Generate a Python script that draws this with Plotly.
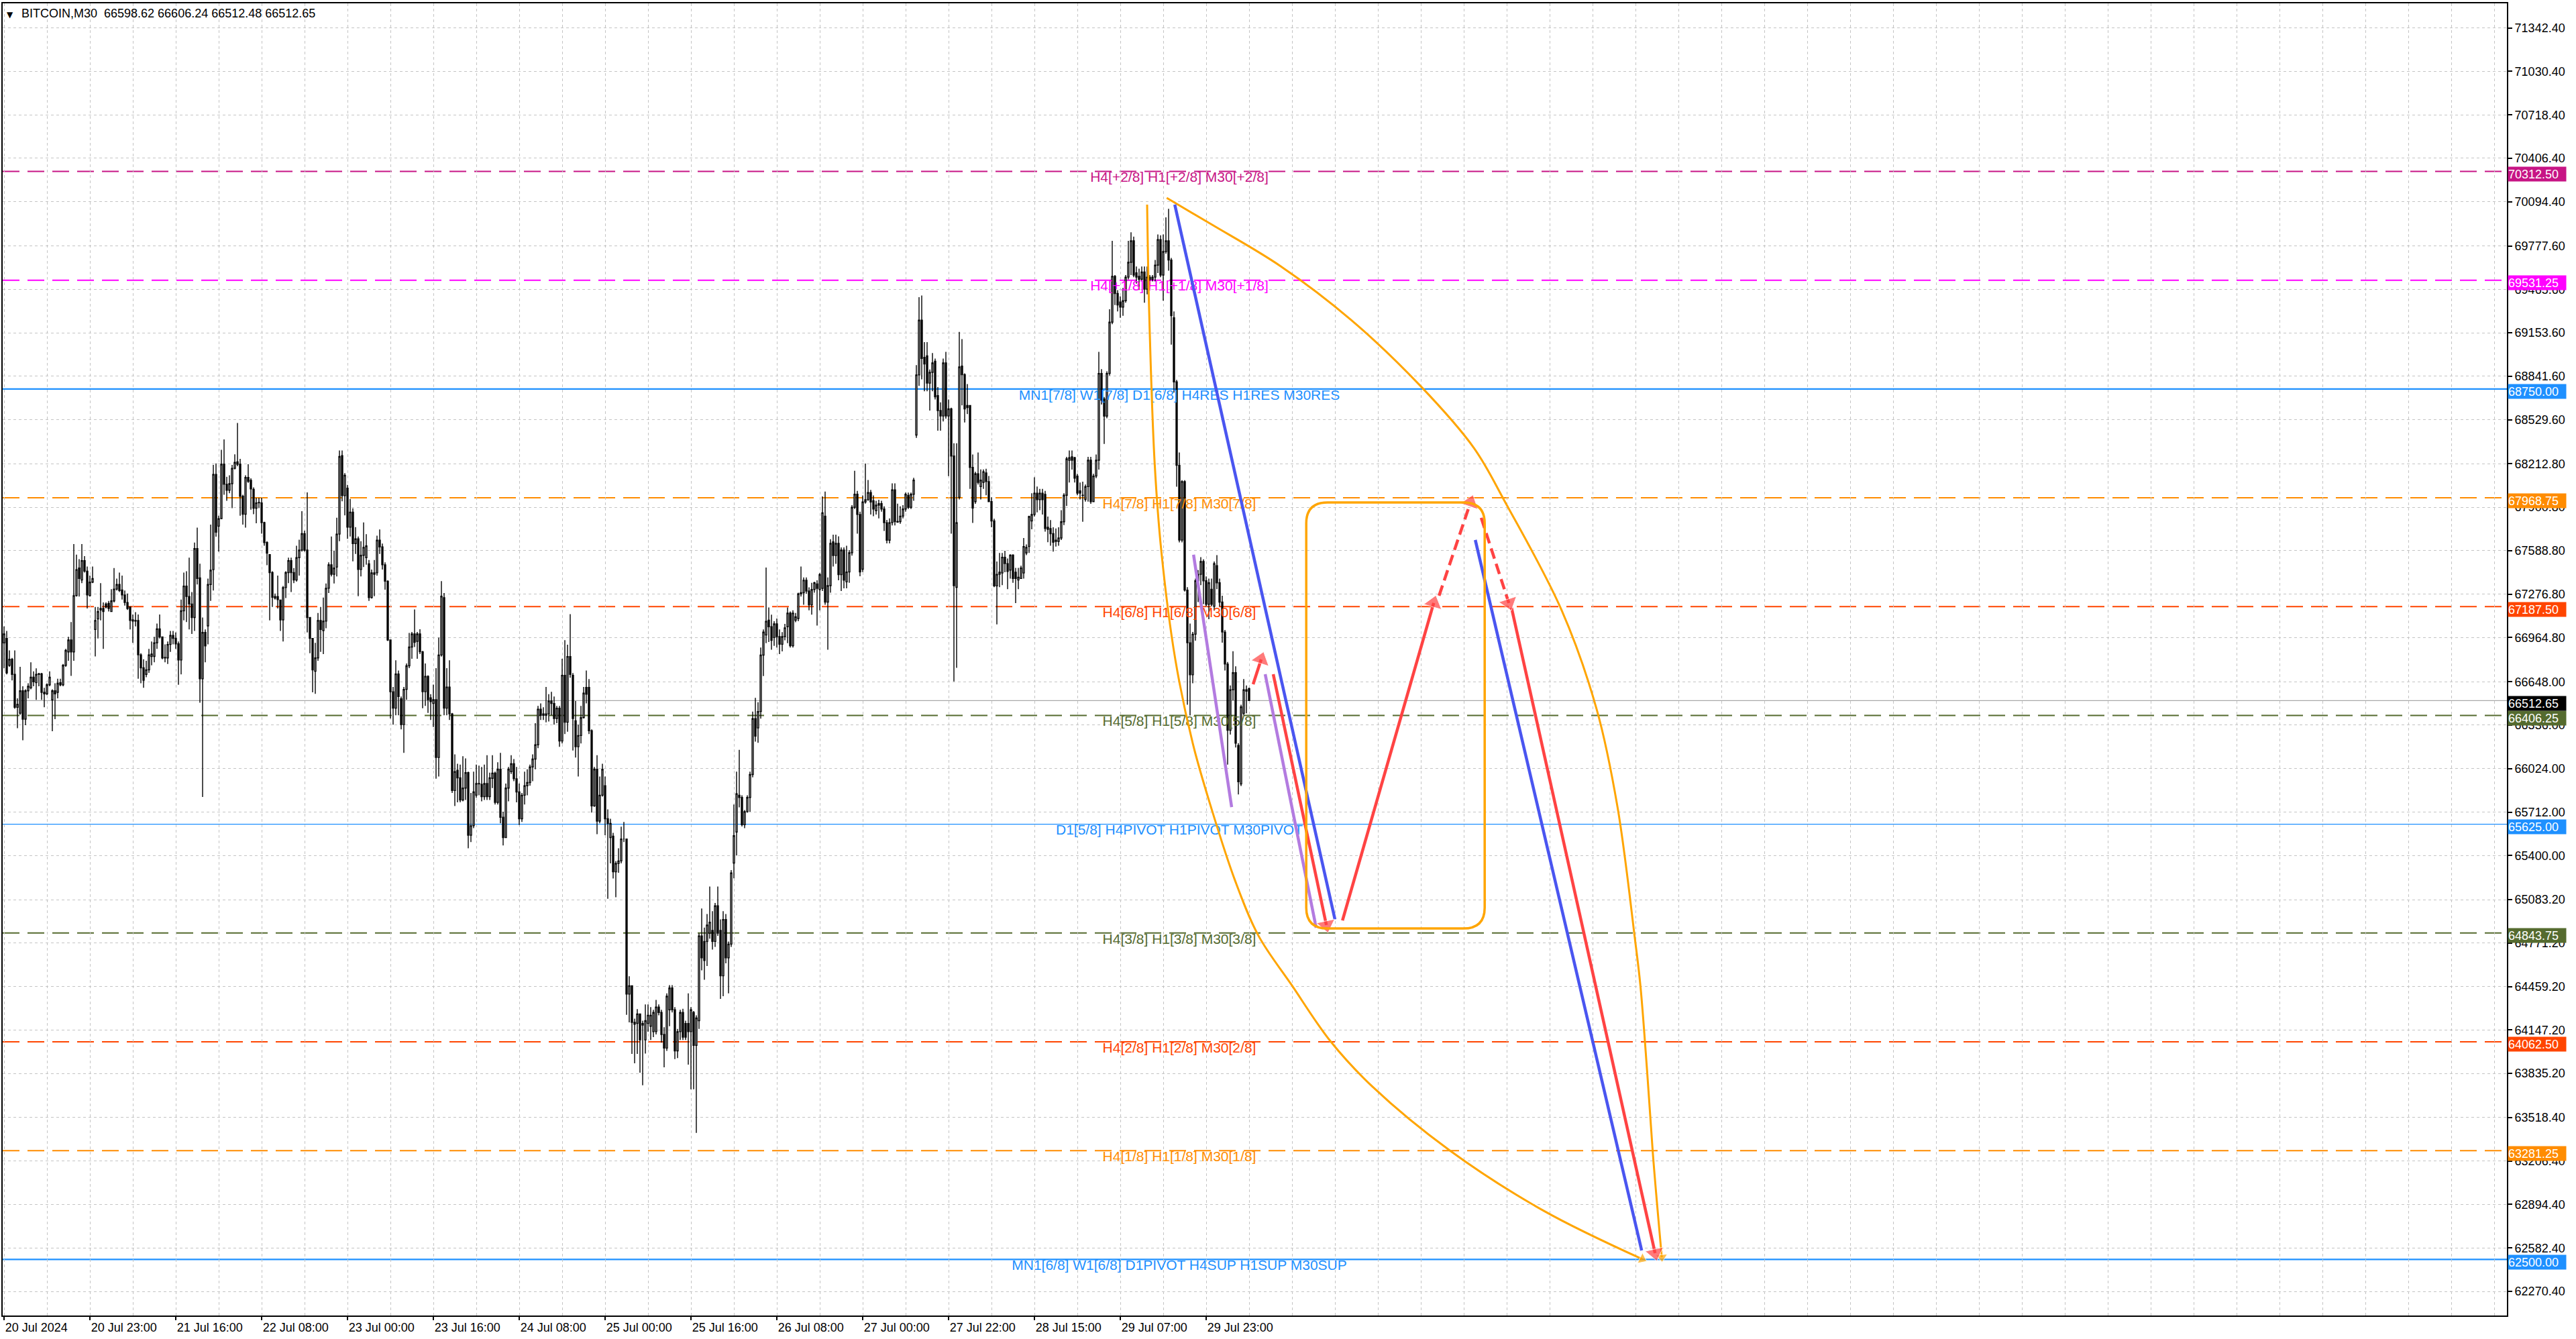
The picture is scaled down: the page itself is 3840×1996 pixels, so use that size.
import plotly.graph_objects as go

# BITCOIN M30 candles, bar 0 = 20 Jul 2024 07:00
opens = [
    66927, 66959, 66766, 66809, 66701, 66465, 66422, 66583, 66379, 66583,
    66604, 66680, 66641, 66701, 66705, 66572, 66561, 66626, 66518, 66583,
    66572, 66641, 66626, 66766, 66862, 66948, 66862, 67266, 67464, 67378,
    67518, 67442, 67266, 67363, 67023, 67099, 67163, 67174, 67206, 67210,
    67152, 67228, 67313, 67346, 67307, 67271, 67217, 67185, 67092, 67084,
    67088, 66841, 66748, 66701, 66733, 66830, 66830, 66927, 67028, 66970,
    66823, 66819, 66916, 66981, 66959, 66920, 66804, 67157, 67335, 67260,
    67206, 67109, 67604, 67393, 66669, 67002, 67049, 67346, 67453, 68137,
    67765, 67819, 68210, 68066, 68023, 68070, 68180, 68227, 68210, 67980,
    67851, 68115, 68094, 68029, 67894, 67932, 67932, 67791, 67647, 67561,
    67432, 67260, 67260, 67234, 67092, 67324, 67432, 67518, 67432, 67378,
    67539, 67593, 67711, 67593, 67109, 66959, 66723, 66819, 67088,
    67015, 67083, 67319, 67488, 67420, 67471, 67708, 68271, 67984, 68038,
    67758, 67866, 67640, 67674, 67454, 67556, 67539, 67495, 67252, 67430,
    67430, 67664, 67616, 67488, 67370, 66948, 66576, 66458, 66704, 66525,
    66340, 66593, 66762, 66897, 66991, 66938, 66991, 66863, 66576, 66687,
    66533, 66492, 66519, 66104, 66840, 67252, 66458, 66610, 66417, 65867,
    66012, 65958, 65799, 65884, 65995, 65546, 65614, 65833, 65917, 65911,
    65823, 65917, 65823, 65954, 65992, 65782, 66019, 65675, 65529, 65884,
    66002, 66059, 65951, 65857, 65664, 65833, 65901, 65924, 66036, 66093,
    66195, 66451, 66417, 66407, 66417, 66509, 66492, 66384, 66458, 66222,
    66694, 66357, 66829, 66694, 66367, 66181, 66262, 66390, 66607, 66607,
    66296, 65756, 66019, 65647, 65833, 65901, 65664, 65529, 65539, 65283,
    65344, 65361, 65519, 65519, 64405, 64465, 64202, 64195, 64263,
    64182, 64076, 64194, 64174, 64135, 64135, 64312, 64273, 64115, 64017,
    64292, 64449, 64292, 63997, 64135, 64273, 64194, 64194, 64135, 64273,
    64037, 64214, 64823, 64783, 64783, 64842, 64862, 64783, 65039, 64862,
    64536, 64941, 64665, 64764, 65346, 65569, 65833, 65817, 65621, 65715,
    65817, 65982, 66383, 66316, 66434, 66839, 66984, 67090, 67043, 66965,
    67063, 66972, 66917, 66972, 67043, 67141, 66906, 67090, 67102, 67279,
    67287, 67377, 67299, 67200, 67310, 67350, 67310, 67318, 67837, 67220,
    67338, 67652, 67554, 67641, 67417, 67593, 67365, 67436, 67574, 67900,
    67994, 67849, 67456, 67939, 67955, 68006, 67947, 67876, 67916, 67927,
    67888, 67790, 67664, 67790, 68026, 67798, 67798, 67837, 67888, 67986,
    67900, 67994, 68419, 68851, 69244, 68977, 68988, 68792, 68870, 68949,
    68702, 68595, 68556, 68937, 68556, 68607, 68269, 67326,
    67972, 68914, 68853, 68632, 68632, 68187, 67941, 68141, 68049, 68080,
    68147, 68085, 67941, 67803, 67336, 67419, 67429, 67542, 67496, 67450,
    67557, 67434, 67378, 67389, 67429, 67573, 67619, 67803, 67849, 68002,
    67956, 68002, 67993, 67757, 67748, 67711, 67665, 67656, 67680, 67797,
    67987, 68239, 68263, 68257, 68125, 68018, 67987, 67957, 68049, 68239,
    67941, 68125, 68239, 68862, 68678, 68555, 68862, 69230, 69559, 69436,
    69375, 69338, 69384, 69553, 69660, 69814, 69584, 69559, 69538, 69590,
    69467, 69553, 69538, 69553, 69639, 69823, 69568, 69737, 69814, 69676,
    69261, 68801, 68202, 67665, 68085, 67306, 66928, 66698, 66989, 67373,
    67419, 67511, 67373, 67204, 67312, 67189, 67481, 67358, 67220, 67005,
    66775, 66299, 66590, 66713, 66191, 65914, 66421, 66590, 66598.62,
]
highs = [
    67045, 67013, 66873, 66819, 66873, 66529, 66755, 66615, 66594, 66637,
    66787, 66723, 66744, 66712, 66712, 66604, 66637, 66723, 66594, 66637,
    66669, 66669, 66776, 66884, 66970, 67077, 67636, 67561, 67528, 67636,
    67550, 67475, 67410, 67475, 67185, 67185, 67356, 67217, 67217, 67228,
    67313, 67464, 67389, 67432, 67410, 67303, 67281, 67185, 67131, 67148,
    67131, 66852, 66809, 66798, 66884, 66937, 66970, 67066, 67131, 66970,
    66916, 66937, 67013, 67013, 67002, 66937, 67238, 67432, 67442, 67539,
    67292, 67647, 67754, 67496, 67109, 67023, 67389, 67776, 68205, 68216,
    67840, 68313, 68388, 68119, 68130, 68205, 68281, 68506, 68248, 67990,
    68130, 68210, 68109, 68044, 67969, 67969, 67969, 67797, 67657, 67561,
    67442, 67281, 67410, 67238, 67335, 67442, 67539, 67539, 67464, 67625,
    67668, 67872, 67733, 68008, 67109, 66959, 66927, 67142, 67185,
    67252, 67353, 67505, 67691, 67589, 67826, 68309, 68309, 68146, 68062,
    67961, 67893, 67758, 67691, 67657, 67792, 67708, 67522, 67454, 67522,
    67697, 67741, 67640, 67505, 67377, 66948, 66610, 66802, 66728, 66542,
    66610, 66779, 66998, 67005, 67167, 67005, 67025, 66870, 66779, 66694,
    66559, 66627, 66745, 66965, 67370, 67285, 66745, 66802, 66424, 66127,
    66059, 66053, 66113, 66097, 66002, 65850, 66002, 66053, 66046, 66036,
    66053, 66120, 65995, 66120, 66002, 66070, 66137, 65715, 65917, 66036,
    66120, 66093, 66036, 65917, 65850, 66002, 66019, 66053, 66127, 66350,
    66475, 66492, 66465, 66610, 66559, 66576, 66542, 66475, 66475, 66813,
    66947, 66914, 67133, 66711, 66509, 66340, 66475, 66610, 66728, 66667,
    66306, 66036, 66120, 65968, 66059, 65968, 65732, 65664, 65563, 65361,
    65452, 65607, 65641, 65519, 64533, 64465, 64229, 64297, 64263,
    64214, 64331, 64331, 64312, 64292, 64363, 64331, 64292, 64167, 64410,
    64469, 64469, 64312, 64155, 64292, 64300, 64214, 64410, 64312, 64284,
    64253, 64842, 65020, 64882, 64980, 65177, 65000, 65059, 65177, 64941,
    65000, 64980, 64783, 65295, 65766, 66002, 66159, 65833, 65727, 65833,
    66002, 66434, 66532, 66501, 66894, 67024, 67468, 67181, 67130, 67082,
    67102, 67024, 67004, 67063, 67181, 67153, 67161, 67141, 67287, 67475,
    67397, 67397, 67326, 67358, 67365, 67377, 67428, 67978, 68014, 67397,
    67672, 67704, 67704, 67692, 67613, 67613, 67625, 67593, 67916, 68163,
    68018, 67869, 67986, 68214, 68096, 68026, 67986, 67947, 67955, 67947,
    67908, 67810, 67821, 68073, 68073, 67927, 67908, 67916, 68006, 68006,
    68006, 68112, 68922, 69409, 69421, 69087, 69087, 68890, 69008, 68969,
    68764, 68654, 68969, 69016, 68674, 68615, 68360, 68360,
    69160, 69108, 68862, 68785, 68632, 68279, 68156, 68294, 68172, 68172,
    68177, 68125, 67972, 67818, 67511, 67573, 67573, 67588, 67533, 67563,
    67563, 67465, 67465, 67481, 67680, 67634, 67840, 68002, 68116, 68049,
    68033, 68033, 68018, 67834, 67809, 67757, 67748, 67757, 67880, 68002,
    68263, 68309, 68309, 68263, 68141, 68079, 68085, 68064, 68263, 68263,
    68141, 68279, 69016, 68893, 68693, 68877, 69322, 69814, 69568, 69460,
    69415, 69476, 69568, 69814, 69875, 69844, 69630, 69614, 69630, 69630,
    69630, 69568, 69568, 69676, 69860, 69854, 69860, 69982, 70044, 69691,
    69307, 68816, 68294, 68095, 68095, 67327, 67066, 67005, 67389, 67450,
    67542, 67527, 67404, 67389, 67389, 67511, 67557, 67389, 67266, 67020,
    66790, 66621, 66867, 66759, 66207, 66483, 66667, 66621, 66606.24,
]
lows = [
    66744, 66701, 66755, 66658, 66454, 66314, 66411, 66228, 66336, 66529,
    66594, 66615, 66518, 66615, 66518, 66465, 66551, 66615, 66293, 66379,
    66529, 66615, 66615, 66755, 66798, 66690, 66798, 67259, 67259, 67356,
    67432, 67174, 67259, 67356, 66830, 66959, 67088, 66884, 67174, 67152,
    67152, 67217, 67303, 67292, 67238, 67195, 67163, 67023, 66927, 67045,
    66669, 66637, 66604, 66680, 66712, 66766, 66787, 66884, 66959, 66809,
    66787, 66776, 66862, 66916, 66884, 66626, 66701, 67088, 67077, 67023,
    66991, 67013, 67346, 66497, 65820, 66787, 66916, 67228, 67303, 67690,
    67582, 67815, 67990, 67947, 68001, 67894, 68173, 68195, 67840, 67776,
    67754, 68076, 67883, 67851, 67786, 67894, 67711, 67625, 67485, 67088,
    67185, 67238, 67174, 67013, 66937, 67249, 67356, 67292, 67356, 67367,
    67410, 67582, 67582, 67002, 66852, 66572, 66561, 66798, 66862,
    66846, 67032, 67285, 67404, 67353, 67404, 67657, 67944, 67843, 67674,
    67691, 67512, 67566, 67262, 67404, 67471, 67488, 67228, 67245, 67262,
    67410, 67566, 67454, 67309, 66940, 66384, 66340, 66407, 66407, 66306,
    66137, 66519, 66745, 66813, 66897, 66813, 66846, 66458, 66475, 66424,
    66373, 66323, 65952, 65968, 66829, 66407, 66407, 66373, 65850, 65756,
    65782, 65782, 65789, 65799, 65452, 65496, 65597, 65816, 65833, 65789,
    65799, 65799, 65799, 65884, 65766, 65766, 65631, 65472, 65529, 65789,
    65985, 65934, 65782, 65620, 65641, 65766, 65833, 65901, 65934, 66019,
    66171, 66373, 66373, 66356, 66363, 66407, 66340, 66350, 66181, 66205,
    66272, 66289, 66677, 66154, 66104, 65968, 66205, 66384, 66492, 66272,
    65708, 65749, 65553, 65631, 65823, 65546, 65090, 65344, 65235, 65100,
    65276, 65344, 65496, 64256, 64202, 63976, 63908, 63976, 63841,
    63750, 63978, 64135, 64076, 64096, 64115, 64253, 64056, 63879, 63997,
    64174, 64273, 63938, 63946, 64076, 64076, 64076, 63899, 63722, 63722,
    63408, 64155, 64575, 64508, 64607, 64803, 64725, 64744, 64823, 64371,
    64390, 64626, 64410, 64744, 65236, 65400, 65746, 65609, 65597, 65707,
    65715, 65962, 66218, 66210, 66383, 66689, 66925, 66933, 66878, 66906,
    66894, 66847, 66866, 66945, 66925, 66894, 66894, 67075, 67082, 67259,
    67200, 67279, 67161, 67130, 67287, 67051, 67161, 67299, 67200, 66878,
    67287, 67475, 67495, 67377, 67299, 67318, 67318, 67358, 67554, 67888,
    67711, 67405, 67436, 67927, 67947, 67849, 67837, 67849, 67821, 67869,
    67731, 67641, 67641, 67770, 67770, 67790, 67782, 67821, 67869, 67888,
    67888, 67947, 68399, 68772, 68819, 68733, 68733, 68595, 68733, 68674,
    68450, 68450, 68517, 68537, 68124, 67711, 66650, 66748,
    67957, 68632, 68509, 68570, 68033, 67788, 67926, 68064, 67957, 68033,
    67987, 67941, 67757, 67327, 67060, 67327, 67342, 67434, 67312, 67389,
    67358, 67213, 67312, 67389, 67389, 67557, 67573, 67742, 67834, 67864,
    67880, 67849, 67726, 67650, 67625, 67582, 67619, 67625, 67665, 67772,
    67910, 68079, 68171, 68079, 67987, 67957, 67797, 67941, 67941, 67926,
    67941, 68110, 68171, 68638, 68356, 68540, 68847, 69215, 69353, 69307,
    69261, 69276, 69369, 69537, 69568, 69553, 69507, 69461, 69522, 69369,
    69430, 69485, 69522, 69522, 69583, 69553, 69384, 69721, 69599, 69068,
    68724, 68048, 67649, 67649, 67296, 66483, 66406, 66637, 66943, 67220,
    67342, 67205, 67189, 67097, 67189, 67158, 67312, 67189, 66928, 66728,
    66053, 66268, 66514, 66176, 65838, 65899, 66406, 66421, 66512.48,
]
closes = [
    66991, 66712, 66809, 66701, 66465, 66486, 66583, 66379, 66583, 66615,
    66680, 66647, 66701, 66705, 66572, 66561, 66626, 66680, 66583, 66561,
    66637, 66626, 66766, 66873, 66948, 66862, 67266, 67453, 67389, 67518,
    67442, 67271, 67363, 67389, 67088, 67152, 67174, 67152, 67185, 67174,
    67228, 67313, 67346, 67303, 67271, 67217, 67174, 67088, 67084, 67088,
    66841, 66748, 66658, 66733, 66841, 66847, 66927, 67028, 66970, 66819,
    66819, 66916, 66981, 66959, 66920, 66804, 67157, 67335, 67260, 67206,
    67109, 67604, 67389, 66669, 67002, 66905, 67346, 67449, 68137, 67722,
    67819, 68210, 68066, 68023, 68070, 68180, 68223, 68210, 67980, 67851,
    68115, 68087, 68033, 67894, 67932, 67935, 67791, 67647, 67571, 67432,
    67255, 67249, 67238, 67092, 67324, 67432, 67518, 67432, 67378, 67539,
    67593, 67711, 67593, 67109, 66959, 66733, 66819, 67088, 67023,
    67083, 67319, 67488, 67420, 67464, 67708, 68265, 67984, 68130, 67758,
    67866, 67640, 67674, 67454, 67556, 67613, 67623, 67252, 67430, 67420,
    67664, 67616, 67488, 67370, 66948, 66576, 66458, 66704, 66542, 66340,
    66593, 66762, 66897, 66991, 66931, 66991, 66863, 66576, 66687, 66519,
    66505, 66519, 66104, 66840, 67262, 66458, 66610, 66417, 65867, 66002,
    65958, 65799, 65884, 65995, 65546, 65614, 65857, 65917, 65914, 65823,
    65917, 65823, 65958, 65992, 65782, 66019, 65675, 65529, 65884, 66019,
    66059, 65951, 65857, 65664, 65833, 65901, 65924, 66036, 66093, 66195,
    66451, 66407, 66407, 66417, 66509, 66492, 66384, 66458, 66222, 66694,
    66357, 66829, 66701, 66384, 66181, 66262, 66390, 66566, 66559, 66296,
    65756, 66019, 65647, 65833, 66019, 65664, 65631, 65631, 65283, 65344,
    65361, 65519, 65519, 64405, 64465, 64202, 64189, 64263, 64077,
    64194, 64214, 64253, 64253, 64273, 64312, 64273, 64115, 64017, 64390,
    64449, 64292, 63997, 64135, 64273, 64096, 64096, 64135, 64292, 64037,
    64233, 64823, 64665, 64646, 64901, 64921, 64783, 65039, 64842, 64536,
    64941, 64665, 64764, 65275, 65542, 65844, 65817, 65621, 65715, 65817,
    65982, 66383, 66257, 66434, 66839, 67004, 67082, 67043, 66945, 67063,
    66972, 66917, 66972, 67035, 67141, 66906, 67141, 67114, 67279, 67287,
    67377, 67299, 67200, 67310, 67358, 67318, 67417, 67861, 67220, 67338,
    67641, 67554, 67641, 67417, 67593, 67377, 67436, 67574, 67900, 67994,
    67849, 67436, 67939, 67955, 68006, 67939, 67888, 67916, 67927, 67888,
    67790, 67664, 67790, 68026, 67798, 67794, 67837, 67888, 67994, 67900,
    67994, 68096, 68851, 69244, 68969, 68930, 68792, 68870, 68937, 68694,
    68595, 68556, 68937, 68556, 68607, 68269, 67338, 67790,
    68908, 68853, 68607, 68617, 68187, 67895, 68141, 68080, 68095, 68156,
    68085, 67941, 67803, 67336, 67419, 67434, 67542, 67496, 67440, 67557,
    67389, 67389, 67398, 67465, 67619, 67613, 67834, 67849, 68002, 67956,
    68002, 67956, 67748, 67742, 67711, 67650, 67656, 67680, 67797, 67987,
    68248, 68257, 68239, 68110, 68002, 68002, 67985, 68049, 68239, 67941,
    68125, 68239, 68862, 68669, 68555, 68862, 69230, 69559, 69436, 69353,
    69338, 69384, 69553, 69660, 69814, 69568, 69553, 69538, 69590, 69467,
    69553, 69538, 69553, 69639, 69823, 69568, 69737, 69814, 69676, 69277,
    68801, 68202, 67665, 68085, 67306, 66928, 66698, 66989, 67373, 67419,
    67511, 67373, 67204, 67358, 67204, 67496, 67358, 67220, 67005, 66775,
    66299, 66590, 66713, 66207, 65930, 66467, 66590, 66580, 66512.65,
]

# time labels, one every 32 bars
time_labels = ["20 Jul 2024", "20 Jul 23:00", "21 Jul 16:00", "22 Jul 08:00",
               "23 Jul 00:00", "23 Jul 16:00", "24 Jul 08:00", "25 Jul 00:00",
               "25 Jul 16:00", "26 Jul 08:00", "27 Jul 00:00", "27 Jul 22:00",
               "28 Jul 15:00", "29 Jul 07:00", "29 Jul 23:00"]
label_step = 32

price_ticks = [71342.40, 71030.40, 70718.40, 70406.40, 70094.40, 69777.60,
               69465.60, 69153.60, 68841.60, 68529.60, 68212.80, 67900.80,
               67588.80, 67276.80, 66964.80, 66648.00, 66336.00, 66024.00,
               65712.00, 65400.00, 65083.20, 64771.20, 64459.20, 64147.20,
               63835.20, 63518.40, 63206.40, 62894.40, 62582.40, 62270.40]

# Murrey math levels
level_prices = [70312.50, 69531.25, 68750.00, 67968.75, 67187.50, 66406.25,
                65625.00, 64843.75, 64062.50, 63281.25, 62500.00]
level_names = ["H4[+2/8] H1[+2/8] M30[+2/8]",
               "H4[+1/8] H1[+1/8] M30[+1/8]",
               "MN1[7/8] W1[7/8] D1[6/8] H4RES H1RES M30RES",
               "H4[7/8] H1[7/8] M30[7/8]",
               "H4[6/8] H1[6/8] M30[6/8]",
               "H4[5/8] H1[5/8] M30[5/8]",
               "D1[5/8] H4PIVOT H1PIVOT M30PIVOT",
               "H4[3/8] H1[3/8] M30[3/8]",
               "H4[2/8] H1[2/8] M30[2/8]",
               "H4[1/8] H1[1/8] M30[1/8]",
               "MN1[6/8] W1[6/8] D1PIVOT H4SUP H1SUP M30SUP"]
level_colors = ["#C71585", "#FF00FF", "#1E90FF", "#FF8C00", "#FF4500", "#556B2F",
                "#1E90FF", "#556B2F", "#FF4500", "#FF8C00", "#1E90FF"]
level_dash = ["25px,12px", "25px,12px", "solid", "25px,12px", "25px,12px", "25px,12px",
              "solid", "25px,12px", "25px,12px", "25px,12px", "solid"]
level_width = [2, 2, 2.4, 2, 2, 2, 1.3, 2, 2, 2, 2.4]
level_label_bar = 438
last_price = 66512.65

# hand drawn forecast (bar index, price)
arc_left_x = [426, 426.8, 428.8, 431.3, 436.5, 443, 449.8, 458.8, 467.5, 479.8, 494.3, 510, 538.8, 573.8, 610.5]
arc_left_y = [70074, 69279, 68220, 67584, 66808, 66206, 65748, 65219, 64824, 64472, 64067, 63740, 63282, 62849, 62502]
arc_right_x = [433.3, 449.8, 475.8, 502, 528, 547.8, 559.5, 580.5, 593.5, 601.3, 607.8, 609.8, 612.3, 614.5, 617.8]
arc_right_y = [70122, 69934, 69631, 69246, 68769, 68326, 67935, 67160, 66452, 65748, 64800, 64472, 63860, 63253, 62516]

blue_lines = [([436.3, 496.0], [70074, 64941]),
              ([548.3, 610.3], [67666, 62564])]
purple_lines = [([443.3, 457.5], [67560, 65748]),
                ([470.0, 489.0], [66702, 64881])]
red_arrows = [([465.5, 468.5], [66630, 66808]),
              ([473.0, 492.8], [66702, 64901]),
              ([498.8, 532.8], [64934, 67213]),
              ([561.8, 615.3], [67179, 62545])]
red_dashed_arrows = [([534.8, 546.5], [67266, 67935]),
                     ([550.5, 560.8], [67825, 67213])]
box_x = [485.3, 551.8]
box_y = [64876, 67935]

FONT = "Liberation Sans, Arial, sans-serif"
ORANGE = "#FFA500"
RED = "#FF4343"
BLUE = "#4A55F0"
PURPLE = "#B37BE0"

fig = go.Figure()

# level texts sit under the candles
fig.add_trace(go.Scatter(
    x=[level_label_bar] * len(level_prices), y=level_prices, text=level_names,
    mode="text", textposition="bottom center",
    textfont=dict(family=FONT, size=21, color=level_colors),
    hoverinfo="skip", showlegend=False))

fig.add_trace(go.Candlestick(
    x=list(range(len(opens))), open=opens, high=highs, low=lows, close=closes,
    increasing=dict(line=dict(color="black", width=1.4), fillcolor="white"),
    decreasing=dict(line=dict(color="black", width=1.4), fillcolor="black"),
    whiskerwidth=0, hoverinfo="skip", showlegend=False))


def add_line(xs, ys, color, width, dash="solid", head=0, spline=False):
    fig.add_trace(go.Scatter(
        x=xs, y=ys, mode="lines+markers" if head else "lines",
        line=dict(color=color, width=width, dash=dash,
                  shape="spline" if spline else "linear"),
        marker=dict(size=[0] * (len(xs) - 1) + [head], color=color,
                    symbol="triangle-up", angleref="previous"),
        hoverinfo="skip", showlegend=False))


add_line(arc_left_x, arc_left_y, ORANGE, 3, head=15, spline=True)
add_line(arc_right_x, arc_right_y, ORANGE, 3, head=15, spline=True)
for xs, ys in blue_lines:
    add_line(xs, ys, BLUE, 4.5)
for xs, ys in purple_lines:
    add_line(xs, ys, PURPLE, 4.5)
for xs, ys in red_arrows:
    add_line(xs, ys, RED, 4.5, head=24)
for xs, ys in red_dashed_arrows:
    add_line(xs, ys, RED, 4.5, dash="16px,8px", head=24)

shapes = []
for p, c, d, w in zip(level_prices, level_colors, level_dash, level_width):
    shapes.append(dict(type="line", xref="paper", x0=0, x1=1, yref="y", y0=p, y1=p,
                       line=dict(color=c, width=w, dash=d), layer="between"))
shapes.append(dict(type="line", xref="paper", x0=0, x1=1, yref="y", y0=last_price, y1=last_price,
                   line=dict(color="#A8A8A8", width=1.3), layer="between"))

# rounded rectangle
x0, x1 = box_x
y0, y1 = box_y
rx, ry = 8, 150
box_path = (f"M {x0 + rx},{y1} L {x1 - rx},{y1} Q {x1},{y1} {x1},{y1 - ry} "
            f"L {x1},{y0 + ry} Q {x1},{y0} {x1 - rx},{y0} L {x0 + rx},{y0} "
            f"Q {x0},{y0} {x0},{y0 + ry} L {x0},{y1 - ry} Q {x0},{y1} {x0 + rx},{y1} Z")
shapes.append(dict(type="path", xref="x", yref="y", path=box_path,
                   line=dict(color=ORANGE, width=3.5), layer="above"))

annotations = []
# price badges on the axis
for p, c in zip(level_prices + [last_price], level_colors + ["black"]):
    annotations.append(dict(
        xref="paper", x=1, xanchor="left", xshift=1, yref="y", y=p, yanchor="middle", yshift=-4,
        text=f"{p:.2f}", showarrow=False, bgcolor=c, width=86, height=21, align="left",
        font=dict(family=FONT, size=18, color="white"), borderpad=0))

annotations.append(dict(xref="paper", yref="paper", x=0, y=1, xanchor="left", yanchor="top",
                        xshift=4, yshift=-8, text="▼", showarrow=False,
                        font=dict(family="DejaVu Sans", size=12, color="black")))
annotations.append(dict(xref="paper", yref="paper", x=0, y=1, xanchor="left", yanchor="top",
                        xshift=26, yshift=-3,
                        text="BITCOIN,M30\u00a0\u00a066598.62 66606.24 66512.48 66512.65",
                        showarrow=False, font=dict(family=FONT, size=18, color="black")))

grid = dict(gridcolor="#C4C4C4", griddash="4px,4px", gridwidth=1.2)

fig.update_layout(
    width=3840, height=1996,
    margin=dict(l=4, r=103, t=5, b=35),
    paper_bgcolor="white", plot_bgcolor="white",
    shapes=shapes, annotations=annotations,
    font=dict(family=FONT, size=18, color="black"),
    xaxis=dict(
        range=[-0.5, 932.75], rangeslider=dict(visible=False),
        tickmode="array", tickvals=[i * label_step for i in range(len(time_labels))],
        ticktext=time_labels, ticklabelposition="outside right",
        ticks="outside", ticklen=5, tickcolor="black", tickwidth=1.5,
        tickfont=dict(family=FONT, size=18, color="black"),
        showgrid=True, **grid,
        minor=dict(tickmode="linear", tick0=0, dtick=16, showgrid=True, ticks="", **grid),
        showline=True, linecolor="black", linewidth=2, mirror=True,
        zeroline=False, automargin=False, fixedrange=True),
    yaxis=dict(
        range=[62097, 71519], side="right",
        tickmode="array", tickvals=price_ticks, ticktext=[f"{v:.2f}" for v in price_ticks],
        ticks="outside", ticklen=6, tickcolor="black", tickwidth=1.5,
        tickfont=dict(family=FONT, size=18, color="black"),
        showgrid=True, **grid,
        showline=True, linecolor="black", linewidth=2, mirror=True,
        zeroline=False, automargin=False, fixedrange=True),
)

# page has a default body margin; drop it so the chart sits at the window corner
fig.write_html("out.html", config={"displayModeBar": False},
               post_script="document.body.style.margin='0';document.body.style.overflow='hidden';")
